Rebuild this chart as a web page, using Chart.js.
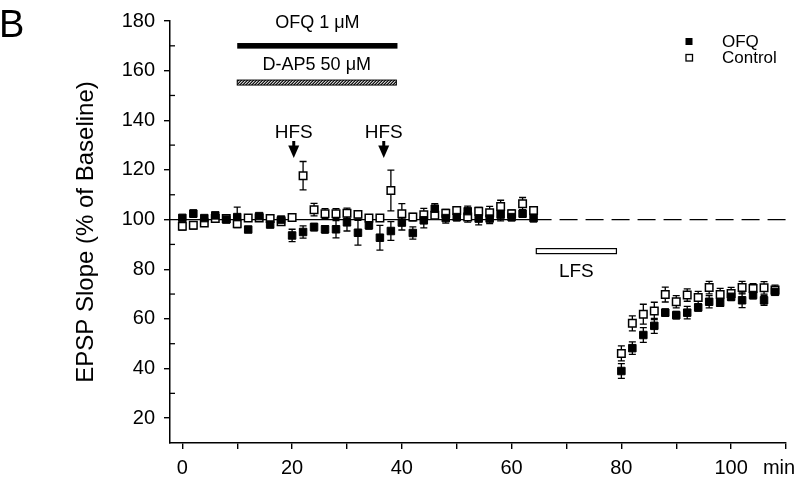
<!DOCTYPE html>
<html><head><meta charset="utf-8">
<script src="https://cdn.jsdelivr.net/npm/chart.js@4.4.1/dist/chart.umd.min.js"></script>
<style>html,body{margin:0;padding:0;background:#fff;}#wrap{width:800px;height:484px;}</style>
</head><body><div id="wrap"><canvas id="c" width="800" height="484"></canvas></div>
<script>
// ---- data (minutes, % of baseline) ----
const timeMin = [0,2,4,6,8,10,12,14,16,18,20,22,24,26,28,30,32,34,36,38,40,42,44,46,48,50,52,54,56,58,60,62,64,
                 80,82,84,86,88,90,92,94,96,98,100,102,104,106,108];
const ofqMean = [100.7,102.4,100.6,101.7,100,101,96,101.4,98,100,93.6,95,97,96.1,96.1,98.9,94.7,97.7,92.7,95.4,98.8,94.6,99.7,104.4,100.6,101,103.4,100.4,100.4,102,101,102.4,100.6,
                 39.0,48.2,53.5,57.2,62.5,61.5,62.5,64.6,66.9,66.5,68.9,67.5,69.6,67.5,70.9];
const ofqSem = [1,1.5,1,1,1,4,1,1,1,1,2.5,2.5,1.5,1.5,3.5,3.5,5,1.5,5,3.8,3,2.5,3,2,2,1.5,2,2.5,2,2.5,1.5,1.5,1.5,
                3,2.5,3,3,1.5,1.5,2.5,1.5,2.5,1.5,1.5,3,1.5,2,1];
const controlMean = [97.3,97.7,98.6,100.4,100.4,98.3,100.6,100.6,100.4,99.1,100.8,117.7,104,102.4,102.4,102.6,102.1,100.6,100.6,111.7,102.4,101,102,101.7,102.6,103.7,101,103.4,102.8,105.3,102.4,106.4,103.7,
                     46.1,58.2,61.9,63.2,69.8,66.9,69.6,68.6,72.6,69.8,70.2,72.6,72.2,72.5,71.6];
const controlSem = [1.5,1.5,1,1,1,1.5,1,1,1,1,1,5.7,2.5,2,2,2,1.5,1,1,8.2,4,1.5,2.5,1.5,1.5,1.5,2,1.5,2.5,2.5,1.5,2.5,1.5,
                    3,3,4,3.5,3,2.5,2.5,2.5,2.5,2.5,2.5,2.5,2,2.5,2];
const baselineLevel = 100;
const baselineSolidSpan = [-2.25, 64];
const baselineDashedSpan = [64, 110];
const ofqPeriod = [10, 39.2];
const dap5Period = [10, 39];
const hfsTimes = [20.3, 36.7];
const lfsPeriod = [64.5, 79.1];
const xTickValues = [0,10,20,30,40,50,60,70,80,90,100,110];
const xLabelValues = [0,20,40,60,80,100];
const yMajorTicks = [20,40,60,80,100,120,140,160,180];
const yMinorTicks = [30,50,70,90,110,130,150,170];
const seriesNames = ['OFQ', 'Control'];

const FONT = "'Liberation Sans', Arial, sans-serif";

const errorBars = {
  id: 'errorBars',
  beforeDatasetsDraw(chart) {
    const {ctx, scales: {x, y}} = chart;
    ctx.save();
    ctx.strokeStyle = '#000';
    ctx.lineWidth = 1.3;
    [[controlMean, controlSem], [ofqMean, ofqSem]].forEach(([m, e]) => {
      timeMin.forEach((t, i) => {
        const px = x.getPixelForValue(t);
        const y1 = y.getPixelForValue(m[i] + e[i]);
        const y2 = y.getPixelForValue(m[i] - e[i]);
        ctx.beginPath();
        ctx.moveTo(px, y1); ctx.lineTo(px, y2);
        ctx.moveTo(px - 3.5, y1); ctx.lineTo(px + 3.5, y1);
        ctx.moveTo(px - 3.5, y2); ctx.lineTo(px + 3.5, y2);
        ctx.stroke();
      });
    });
    ctx.restore();
  }
};

const decorations = {
  id: 'decorations',
  afterDraw(chart) {
    const {ctx, scales: {x, y}} = chart;
    ctx.save();
    ctx.fillStyle = '#000';
    ctx.strokeStyle = '#000';
    // panel letter
    ctx.font = '38px ' + FONT;
    ctx.textAlign = 'left'; ctx.textBaseline = 'alphabetic';
    ctx.fillText('B', -1, 37);
    // minor y ticks (inward)
    ctx.lineWidth = 1.3;
    yMinorTicks.forEach(v => {
      const py = y.getPixelForValue(v);
      ctx.beginPath(); ctx.moveTo(x.left, py); ctx.lineTo(x.left + 5, py); ctx.stroke();
    });
    // "min" unit label
    ctx.font = '20px ' + FONT;
    ctx.textAlign = 'center'; ctx.textBaseline = 'middle';
    ctx.fillText('min', 779, 468);
    // OFQ bar
    const ox1 = x.getPixelForValue(ofqPeriod[0]), ox2 = x.getPixelForValue(ofqPeriod[1]);
    const oy = y.getPixelForValue(170);
    ctx.fillRect(ox1, oy - 2.8, ox2 - ox1, 5.6);
    ctx.font = '18px ' + FONT;
    ctx.fillText('OFQ 1 \u03bcM', (ox1 + ox2) / 2, y.getPixelForValue(179.2));
    // D-AP5 hatched bar
    const dx1 = x.getPixelForValue(dap5Period[0]), dx2 = x.getPixelForValue(dap5Period[1]);
    const dy = y.getPixelForValue(155.2);
    ctx.fillText('D-AP5 50 \u03bcM', (dx1 + dx2) / 2, y.getPixelForValue(162.3));
    ctx.save();
    ctx.beginPath(); ctx.rect(dx1, dy - 2.5, dx2 - dx1, 5); ctx.clip();
    ctx.lineWidth = 1.2;
    for (let k = dx1 - 10; k < dx2 + 10; k += 3) {
      ctx.beginPath(); ctx.moveTo(k, dy + 3); ctx.lineTo(k + 6, dy - 3); ctx.stroke();
    }
    ctx.restore();
    ctx.lineWidth = 1;
    ctx.strokeRect(dx1, dy - 2.5, dx2 - dx1, 5);
    // HFS arrows
    hfsTimes.forEach(t => {
      const ax = x.getPixelForValue(t);
      ctx.font = '19px ' + FONT;
      ctx.fillText('HFS', ax, y.getPixelForValue(135));
      ctx.lineWidth = 3;
      ctx.beginPath(); ctx.moveTo(ax, 141); ctx.lineTo(ax, 150); ctx.stroke();
      ctx.beginPath(); ctx.moveTo(ax - 5.5, 145.5); ctx.lineTo(ax + 5.5, 145.5); ctx.lineTo(ax, 158); ctx.closePath(); ctx.fill();
    });
    // LFS bar
    const lx1 = x.getPixelForValue(lfsPeriod[0]), lx2 = x.getPixelForValue(lfsPeriod[1]);
    const ly = y.getPixelForValue(87.3);
    ctx.lineWidth = 1.2;
    ctx.fillStyle = '#fff';
    ctx.fillRect(lx1, ly - 2.5, lx2 - lx1, 5);
    ctx.strokeRect(lx1, ly - 2.5, lx2 - lx1, 5);
    ctx.fillStyle = '#000';
    ctx.font = '19px ' + FONT;
    ctx.fillText('LFS', (lx1 + lx2) / 2, y.getPixelForValue(78.9));
    // legend
    ctx.textAlign = 'left';
    ctx.font = '17px ' + FONT;
    ctx.fillRect(685.5, 38, 7, 7);
    ctx.fillText(seriesNames[0], 722, 42);
    ctx.lineWidth = 1.3;
    ctx.strokeRect(686, 54.5, 6.5, 6.5);
    ctx.fillText(seriesNames[1], 722, 58);
    ctx.restore();
  }
};

const pts = (m) => timeMin.map((t, i) => ({x: t, y: m[i]}));

new Chart(document.getElementById('c'), {
  type: 'scatter',
  data: {
    datasets: [
      {label: 'baseline', type: 'line', order: 4,
       data: baselineSolidSpan.map(t => ({x: t, y: baselineLevel})),
       borderColor: '#000', borderWidth: 1.4, pointRadius: 0, fill: false},
      {label: 'baseline dashed', type: 'line', order: 3,
       data: baselineDashedSpan.map(t => ({x: t, y: baselineLevel})),
       borderColor: '#000', borderWidth: 1.4, borderDash: [18, 8], pointRadius: 0, fill: false},
      {label: seriesNames[1], data: pts(controlMean), order: 2,
       pointStyle: 'rect', pointRadius: 5.3, backgroundColor: '#fff', borderColor: '#000', borderWidth: 1.5},
      {label: seriesNames[0], data: pts(ofqMean), order: 1,
       pointStyle: 'rect', pointRadius: 5.3, backgroundColor: '#000', borderColor: '#000', borderWidth: 1}
    ]
  },
  options: {
    animation: false, responsive: false, devicePixelRatio: 1,
    layout: {padding: {left: 72, right: 14, top: 20, bottom: 0}},
    plugins: {legend: {display: false}, tooltip: {enabled: false}},
    scales: {
      x: {
        type: 'linear', min: -2.25, max: 110,
        afterBuildTicks: s => { s.ticks = xTickValues.map(v => ({value: v})); },
        afterFit: s => { s.height = 41; },
        grid: {drawOnChartArea: false, color: '#000', lineWidth: 1.4, tickLength: 6},
        border: {color: '#000', width: 1.5},
        ticks: {font: {family: FONT, size: 20}, color: '#000', padding: 7, autoSkip: false, maxRotation: 0,
                callback: v => xLabelValues.includes(v) ? String(v) : ''}
      },
      y: {
        type: 'linear', min: 10, max: 180,
        afterBuildTicks: s => { s.ticks = yMajorTicks.map(v => ({value: v})); },
        afterFit: s => { s.width = 98; },
        grid: {drawOnChartArea: false, color: '#000', lineWidth: 1.4, tickLength: 6},
        border: {color: '#000', width: 1.5},
        title: {display: true, text: 'EPSP Slope (% of Baseline)', font: {family: FONT, size: 24}, color: '#000', padding: 0},
        ticks: {font: {family: FONT, size: 20}, color: '#000', padding: 9, autoSkip: false}
      }
    }
  },
  plugins: [errorBars, decorations]
});
</script></body></html>
